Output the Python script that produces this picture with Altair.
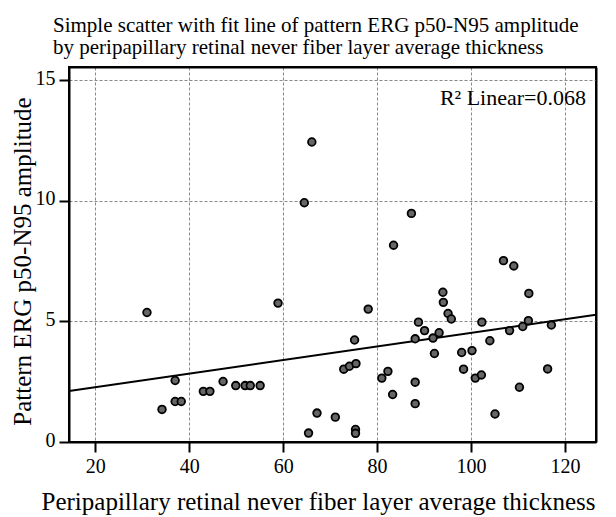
import altair as alt
import pandas as pd

# data
thickness = [31.0, 34.2, 37.0, 37.0, 38.3, 43.0, 44.4, 47.2, 49.9, 51.9,
             53.0, 55.1, 58.9, 64.5, 65.4, 66.1, 67.2, 71.1, 72.9, 74.1,
             75.2, 75.5, 75.4, 75.4, 78.1, 81.0, 82.3, 83.3, 83.5, 87.3,
             88.1, 88.1, 88.1, 88.8, 90.1, 91.9, 92.2, 93.2, 94.0, 94.1,
             95.1, 95.8, 98.0, 98.4, 100.2, 100.9, 102.2, 102.3, 104.0, 105.1,
             106.9, 108.2, 109.1, 110.3, 111.0, 112.2, 112.3, 116.3, 117.1]
amplitude = [5.37, 1.35, 2.55, 1.68, 1.68, 2.10, 2.10, 2.51, 2.34, 2.34,
             2.34, 2.34, 5.76, 9.92, 0.37, 12.44, 1.20, 1.03, 3.02, 3.14,
             4.23, 3.25, 0.52, 0.36, 5.51, 2.65, 2.93, 1.97, 8.16, 9.48,
             4.28, 2.48, 1.59, 4.97, 4.62, 4.31, 3.67, 4.53, 6.21, 5.79,
             5.33, 5.10, 3.71, 3.02, 3.79, 2.65, 2.78, 4.97, 4.20, 1.16,
             7.52, 4.62, 7.30, 2.27, 4.79, 5.03, 6.16, 3.03, 4.85]

fit_x = [14.4, 126.6]
fit_y = [2.11, 5.28]

x_domain = [14.4, 126.6]
y_domain = [0, 15.55]
x_ticks = [20, 40, 60, 80, 100, 120]
y_ticks = [0, 5, 10, 15]

title_lines = ["Simple scatter with fit line of pattern ERG p50-N95 amplitude",
               "by peripapillary retinal never fiber layer average thickness"]
x_title = "Peripapillary retinal never fiber layer average thickness"
y_title = "Pattern ERG p50-N95 amplitude"
r2_label = "R\u00b2 Linear=0.068"

FONT = "Liberation Serif"

pts = pd.DataFrame({"x": thickness, "y": amplitude})
fit = pd.DataFrame({"x": fit_x, "y": fit_y})

W, H = 527, 375

xscale = alt.Scale(domain=x_domain, nice=False, zero=False)
yscale = alt.Scale(domain=y_domain, nice=False, zero=False)

xaxis = alt.Axis(values=x_ticks, title=x_title, grid=True, gridDash=[3, 2],
                 gridColor="#888888", gridWidth=1, domainColor="black", domainWidth=2,
                 tickColor="black", tickWidth=2, tickSize=10, labelPadding=4,
                 labelFont=FONT, labelFontSize=20, labelColor="black",
                 titleFont=FONT, titleFontSize=25, titleFontWeight="normal",
                 titleColor="black", titlePadding=13, titleX=249)
yaxis = alt.Axis(values=y_ticks, title=y_title, grid=True, gridDash=[3, 2],
                 gridColor="#888888", gridWidth=1, domainColor="black", domainWidth=2,
                 tickColor="black", tickWidth=2, tickSize=10, labelPadding=4,
                 labelFont=FONT, labelFontSize=20, labelColor="black",
                 labelBaseline="middle", labelOffset=-2,
                 titleFont=FONT, titleFontSize=25, titleFontWeight="normal",
                 titleColor="black", titlePadding=0, titleY=194)

# frame axes (top and right edges of the plot box)
top_axis = alt.Axis(orient="top", labels=False, ticks=False, grid=False, title=None,
                    domainColor="black", domainWidth=2)
right_axis = alt.Axis(orient="right", labels=False, ticks=False, grid=False, title=None,
                      domainColor="black", domainWidth=2)

line = alt.Chart(fit).mark_line(color="black", strokeWidth=2, clip=True).encode(
    x=alt.X("x:Q", scale=xscale, axis=xaxis),
    y=alt.Y("y:Q", scale=yscale, axis=yaxis),
)

frame = alt.Chart(fit).mark_point(opacity=0).encode(
    x=alt.X("x:Q", scale=xscale, axis=top_axis),
    y=alt.Y("y:Q", scale=yscale, axis=right_axis),
)

points = alt.Chart(pts).mark_point(shape="circle", filled=True, size=58, fill="#666666",
                                   stroke="black", strokeWidth=1.8, opacity=1).encode(
    x=alt.X("x:Q", scale=xscale, axis=None),
    y=alt.Y("y:Q", scale=yscale, axis=None),
)

r2 = alt.Chart(pd.DataFrame({"t": [r2_label]})).mark_text(
    font=FONT, fontSize=22, color="black", align="right", baseline="alphabetic"
).encode(text="t:N", x=alt.value(517), y=alt.value(38))

chart = alt.layer(line, frame, points, r2).resolve_axis(
    x="independent", y="independent"
).properties(
    width=W, height=H,
    title=alt.TitleParams(text=title_lines, font=FONT, fontSize=21,
                          fontWeight="normal", color="black", anchor="start",
                          frame="group", dx=-16, offset=9, lineHeight=22.5),
    autosize=alt.AutoSizeParams(type="none"),
    padding={"left": 61, "top": 59, "right": 12, "bottom": 90},
).configure(background="white").configure_view(stroke="black", strokeWidth=2)

chart.save("out.html", embed_options={"renderer": "svg", "actions": False})
